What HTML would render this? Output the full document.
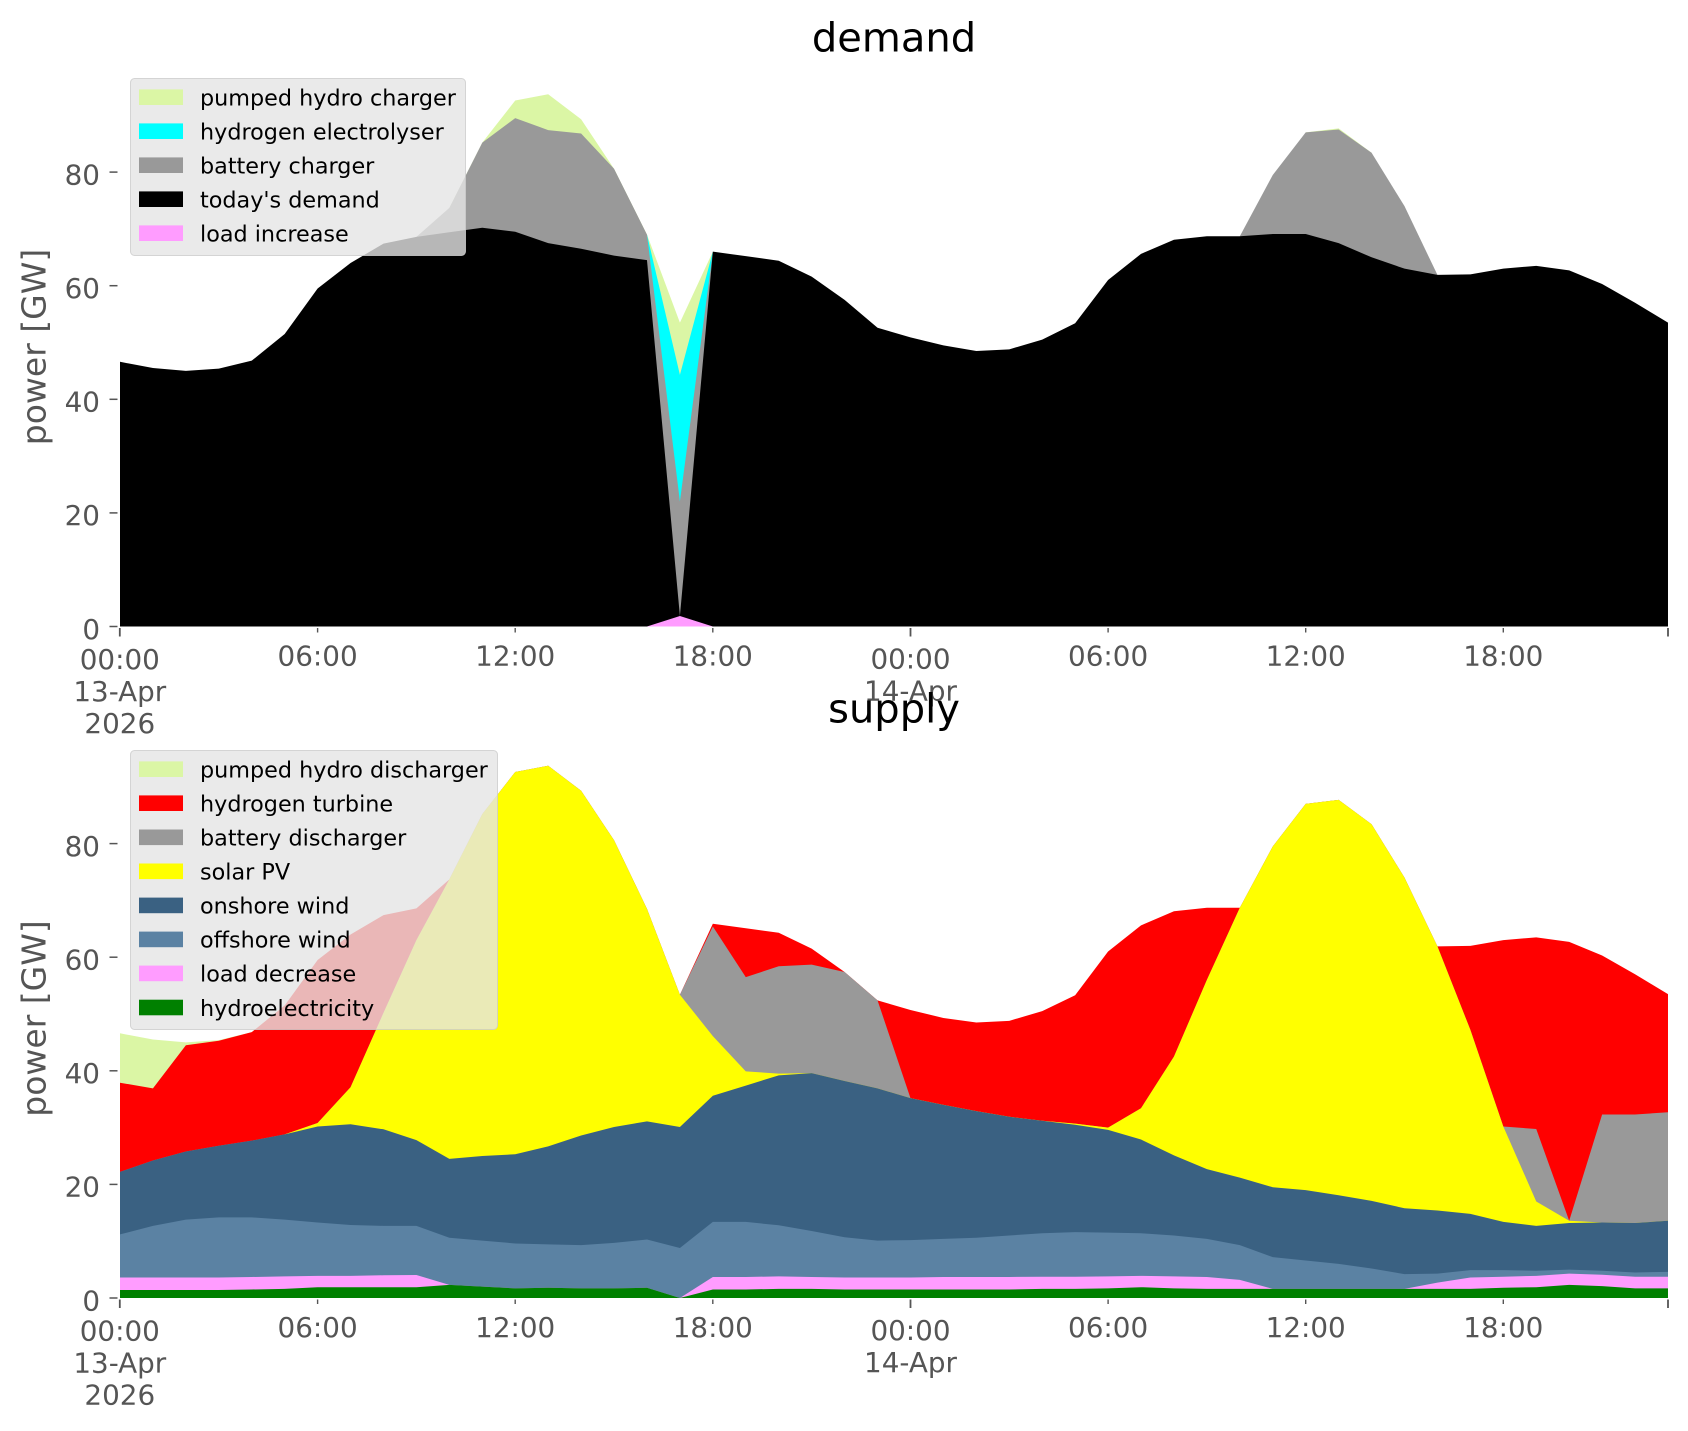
<!DOCTYPE html>
<html>
<head>
<meta charset="utf-8">
<style>
  html, body { margin: 0; padding: 0; background: #ffffff; }
  svg { display: block; }
  text { font-family: "DejaVu Sans", "Liberation Sans", sans-serif; }
  .tk { font-size: 27.8px; fill: #555555; }
  .lg { font-size: 22.3px; fill: #000000; }
</style>
</head>
<body>
<svg width="1688" height="1431" viewBox="0 0 1688 1431" xmlns="http://www.w3.org/2000/svg">
  <rect x="0" y="0" width="1688" height="1431" fill="#ffffff"/>

  <!-- ================= DEMAND (top) ================= -->
  <g transform="matrix(32.936 0 0 -5.68 120 626.5)">
    <polygon fill="#DBF6A5" points="10,0 10,73.7 11,85.2 12,92.6 13,93.7 14,89.3 15,80.6 16,69.0 17,53.5 18,66.0 18,0"/>
    <polygon fill="#DBF6A5" points="36,0 36,87.0 37,87.7 38,83.4 38,0"/>
    <polygon fill="#00FFFF" points="16,0 16,69.0 17,44.3 18,66.0 18,0"/>
    <polygon fill="#999999" points="9,0 9,68.6 10,73.7 11,85.2 12,89.5 13,87.4 14,86.8 15,80.6 16,69.0 17,22.0 18,66.0 18,0"/>
    <polygon fill="#999999" points="34,0 34,68.7 35,79.5 36,87.0 37,87.5 38,83.4 39,74.0 40,61.9 40,0"/>
    <polygon fill="#000000" points="0,0 0,46.6 1,45.5 2,45.0 3,45.4 4,46.8 5,51.5 6,59.5 7,64.0 8,67.4 9,68.6 10,69.4 11,70.2 12,69.5 13,67.5 14,66.5 15,65.3 16,64.5 17,1.85 18,66.0 19,65.2 20,64.4 21,61.6 22,57.5 23,52.6 24,50.9 25,49.5 26,48.5 27,48.8 28,50.5 29,53.4 30,61.0 31,65.6 32,68.1 33,68.7 34,68.7 35,69.1 36,69.1 37,67.5 38,65.0 39,63.0 40,61.9 41,62.0 42,63.0 43,63.5 44,62.7 45,60.3 46,57.0 47,53.5 47,0"/>
    <polygon fill="#FF9CFF" points="16,0 17,1.85 18,0"/>
  </g>

  <g stroke="#555555" stroke-width="1.5">
    <line x1="109.5" y1="626.5" x2="117.5" y2="626.5"/>
    <line x1="109.5" y1="512.9" x2="117.5" y2="512.9"/>
    <line x1="109.5" y1="399.3" x2="117.5" y2="399.3"/>
    <line x1="109.5" y1="285.7" x2="117.5" y2="285.7"/>
    <line x1="109.5" y1="172.1" x2="117.5" y2="172.1"/>
  </g>
  <g class="tk" text-anchor="end">
    <text x="100" y="638.8">0</text>
    <text x="100" y="525.2">20</text>
    <text x="100" y="411.6">40</text>
    <text x="100" y="298.0">60</text>
    <text x="100" y="184.4">80</text>
  </g>
  <g stroke="#555555" stroke-width="1.4">
    <line x1="119.8" y1="628" x2="119.8" y2="636.5" stroke-width="1.8"/>
    <line x1="317.6" y1="628" x2="317.6" y2="632.5"/>
    <line x1="515.2" y1="628" x2="515.2" y2="632.5"/>
    <line x1="712.8" y1="628" x2="712.8" y2="632.5"/>
    <line x1="910.5" y1="628" x2="910.5" y2="636.5" stroke-width="1.8"/>
    <line x1="1108.1" y1="628" x2="1108.1" y2="632.5"/>
    <line x1="1305.7" y1="628" x2="1305.7" y2="632.5"/>
    <line x1="1503.3" y1="628" x2="1503.3" y2="632.5"/>
    <line x1="1668.0" y1="628" x2="1668.0" y2="636.5" stroke-width="1.8"/>
  </g>
  <g class="tk" text-anchor="middle">
    <text x="119.8" y="669">00:00</text>
    <text x="119.8" y="701">13-Apr</text>
    <text x="119.8" y="733">2026</text>
    <text x="317.6" y="665.5">06:00</text>
    <text x="515.2" y="665.5">12:00</text>
    <text x="712.8" y="665.5">18:00</text>
    <text x="910.5" y="668.5">00:00</text>
    <text x="910.5" y="700.5">14-Apr</text>
    <text x="1108.1" y="665.5">06:00</text>
    <text x="1305.7" y="665.5">12:00</text>
    <text x="1503.3" y="665.5">18:00</text>
  </g>
  <text transform="translate(45.5,347) rotate(-90)" text-anchor="middle" style="font-size:33px;fill:#555555">power [GW]</text>
  <text x="894" y="51.7" text-anchor="middle" style="font-size:40px;fill:#000000">demand</text>

  <rect x="130.5" y="78.5" width="335" height="177" rx="4" ry="4" fill="#E5E5E5" fill-opacity="0.8" stroke="#CCCCCC" stroke-opacity="0.8" stroke-width="1"/>
  <rect x="139" y="89.4" width="44" height="15.6" fill="#DBF6A5"/>
  <rect x="139" y="123.4" width="44" height="15.6" fill="#00FFFF"/>
  <rect x="139" y="157.4" width="44" height="15.6" fill="#999999"/>
  <rect x="139" y="191.4" width="44" height="15.6" fill="#000000"/>
  <rect x="139" y="225.4" width="44" height="15.6" fill="#FF9CFF"/>
  <g class="lg">
    <text x="200" y="105.5">pumped hydro charger</text>
    <text x="200" y="139.5">hydrogen electrolyser</text>
    <text x="200" y="173.5">battery charger</text>
    <text x="200" y="207.5">today's demand</text>
    <text x="200" y="241.5">load increase</text>
  </g>

  <!-- ================= SUPPLY (bottom) ================= -->
  <g transform="matrix(32.936 0 0 -5.68 120 1298)">
    <polygon fill="#DBF6A5" points="0,0 0,46.6 1,45.5 2,45.0 3,45.4 4,46.8 5,51.5 5,0"/>
    <polygon fill="#FF0000" points="0,0 0,37.9 1,36.9 2,44.5 3,45.3 4,46.8 5,51.5 6,59.5 7,64.0 8,67.4 9,68.6 10,73.7 11,85.2 12,92.6 13,93.7 14,89.3 15,80.6 16,68.5 17,53.4 18,65.9 19,65.1 20,64.3 21,61.5 22,57.4 23,52.4 24,50.7 25,49.3 26,48.5 27,48.8 28,50.5 29,53.3 30,61.0 31,65.6 32,68.1 33,68.7 34,68.7 35,79.5 36,87.0 37,87.7 38,83.4 39,74.0 40,61.9 41,62.0 42,63.0 43,63.5 44,62.7 45,60.3 46,57.0 47,53.5 47,0"/>
    <polygon fill="#999999" points="0,0 0,22.2 1,24.2 2,25.8 3,26.8 4,27.7 5,28.8 6,30.8 7,37.1 8,50.2 9,63.0 10,73.7 11,85.2 12,92.6 13,93.7 14,89.3 15,80.6 16,68.5 17,53.4 18,65.4 19,56.5 20,58.4 21,58.7 22,57.4 23,52.4 24,35.2 25,34.0 26,32.9 27,31.9 28,31.2 29,30.7 30,30.0 31,33.4 32,42.5 33,56.0 34,68.7 35,79.5 36,87.0 37,87.7 38,83.4 39,74.0 40,61.9 41,47.2 42,30.2 43,29.75 44,13.6 45,32.3 46,32.3 47,32.7 47,0"/>
    <polygon fill="#FFFF00" points="5,0 5,28.8 6,30.8 7,37.1 8,50.2 9,63.0 10,73.7 11,85.2 12,92.6 13,93.7 14,89.3 15,80.6 16,68.5 17,53.4 18,46.1 19,39.9 20,39.5 21,39.6 22,38.2 23,36.9 24,35.2 25,34.0 26,32.9 27,31.9 28,31.2 29,30.7 30,30.0 31,33.4 32,42.5 33,56.0 34,68.7 35,79.5 36,87.0 37,87.7 38,83.4 39,74.0 40,61.9 41,47.2 42,30.2 43,17.0 44,13.6 45,13.3 46,13.2 47,13.6 47,0"/>
    <polygon fill="#3A6182" points="0,0 0,22.2 1,24.2 2,25.8 3,26.8 4,27.7 5,28.8 6,30.2 7,30.6 8,29.7 9,27.8 10,24.5 11,25.0 12,25.3 13,26.7 14,28.6 15,30.1 16,31.1 17,30.1 18,35.6 19,37.4 20,39.2 21,39.6 22,38.2 23,36.9 24,35.2 25,34.0 26,32.9 27,31.9 28,31.2 29,30.5 30,29.6 31,27.9 32,25.1 33,22.7 34,21.2 35,19.5 36,19.0 37,18.1 38,17.1 39,15.8 40,15.4 41,14.8 42,13.4 43,12.7 44,13.2 45,13.3 46,13.2 47,13.6 47,0"/>
    <polygon fill="#5B82A3" points="0,0 0,11.2 1,12.7 2,13.8 3,14.2 4,14.2 5,13.8 6,13.3 7,12.85 8,12.7 9,12.7 10,10.6 11,10.1 12,9.6 13,9.45 14,9.3 15,9.7 16,10.3 17,8.8 18,13.4 19,13.4 20,12.8 21,11.8 22,10.7 23,10.1 24,10.2 25,10.4 26,10.6 27,11.0 28,11.4 29,11.6 30,11.5 31,11.4 32,11.0 33,10.4 34,9.3 35,7.2 36,6.6 37,6.0 38,5.2 39,4.2 40,4.3 41,4.9 42,4.9 43,4.8 44,5.0 45,4.8 46,4.5 47,4.6 47,0"/>
    <polygon fill="#FF9CFF" points="0,0 0,3.6 1,3.6 2,3.6 3,3.6 4,3.7 5,3.8 6,3.9 7,3.9 8,4.0 9,4.05 10,2.3 11,2.0 12,1.7 13,1.8 14,1.7 15,1.7 16,1.8 17,0 18,3.7 19,3.7 20,3.8 21,3.7 22,3.6 23,3.6 24,3.6 25,3.7 26,3.7 27,3.7 28,3.75 29,3.75 30,3.8 31,3.9 32,3.8 33,3.7 34,3.2 35,1.6 36,1.6 37,1.6 38,1.6 39,1.6 40,2.7 41,3.6 42,3.75 43,3.9 44,4.3 45,4.1 46,3.75 47,3.75 47,0"/>
    <polygon fill="#008000" points="0,0 0,1.4 1,1.4 2,1.4 3,1.4 4,1.5 5,1.6 6,1.9 7,1.9 8,1.9 9,1.9 10,2.3 11,2.0 12,1.7 13,1.8 14,1.7 15,1.7 16,1.8 17,0 18,1.5 19,1.5 20,1.6 21,1.6 22,1.5 23,1.5 24,1.5 25,1.5 26,1.5 27,1.5 28,1.6 29,1.6 30,1.7 31,1.9 32,1.7 33,1.6 34,1.6 35,1.6 36,1.6 37,1.6 38,1.6 39,1.6 40,1.6 41,1.6 42,1.8 43,1.9 44,2.3 45,2.1 46,1.7 47,1.7 47,0"/>
  </g>

  <g stroke="#555555" stroke-width="1.5">
    <line x1="109.5" y1="1298" x2="117.5" y2="1298"/>
    <line x1="109.5" y1="1184.4" x2="117.5" y2="1184.4"/>
    <line x1="109.5" y1="1070.8" x2="117.5" y2="1070.8"/>
    <line x1="109.5" y1="957.2" x2="117.5" y2="957.2"/>
    <line x1="109.5" y1="843.6" x2="117.5" y2="843.6"/>
  </g>
  <g class="tk" text-anchor="end">
    <text x="100" y="1310.3">0</text>
    <text x="100" y="1196.7">20</text>
    <text x="100" y="1083.1">40</text>
    <text x="100" y="969.5">60</text>
    <text x="100" y="855.9">80</text>
  </g>
  <g stroke="#555555" stroke-width="1.4">
    <line x1="119.8" y1="1299.5" x2="119.8" y2="1308" stroke-width="1.8"/>
    <line x1="317.6" y1="1299.5" x2="317.6" y2="1304"/>
    <line x1="515.2" y1="1299.5" x2="515.2" y2="1304"/>
    <line x1="712.8" y1="1299.5" x2="712.8" y2="1304"/>
    <line x1="910.5" y1="1299.5" x2="910.5" y2="1308" stroke-width="1.8"/>
    <line x1="1108.1" y1="1299.5" x2="1108.1" y2="1304"/>
    <line x1="1305.7" y1="1299.5" x2="1305.7" y2="1304"/>
    <line x1="1503.3" y1="1299.5" x2="1503.3" y2="1304"/>
    <line x1="1668.0" y1="1299.5" x2="1668.0" y2="1308" stroke-width="1.8"/>
  </g>
  <g class="tk" text-anchor="middle">
    <text x="119.8" y="1340.5">00:00</text>
    <text x="119.8" y="1372.5">13-Apr</text>
    <text x="119.8" y="1404.5">2026</text>
    <text x="317.6" y="1337">06:00</text>
    <text x="515.2" y="1337">12:00</text>
    <text x="712.8" y="1337">18:00</text>
    <text x="910.5" y="1340">00:00</text>
    <text x="910.5" y="1372">14-Apr</text>
    <text x="1108.1" y="1337">06:00</text>
    <text x="1305.7" y="1337">12:00</text>
    <text x="1503.3" y="1337">18:00</text>
  </g>
  <text transform="translate(45.5,1018.5) rotate(-90)" text-anchor="middle" style="font-size:33px;fill:#555555">power [GW]</text>
  <text x="894" y="722.7" text-anchor="middle" style="font-size:40px;fill:#000000">supply</text>

  <rect x="130.5" y="750.5" width="367" height="279" rx="4" ry="4" fill="#E5E5E5" fill-opacity="0.8" stroke="#CCCCCC" stroke-opacity="0.8" stroke-width="1"/>
  <rect x="139" y="761.4" width="44" height="15.6" fill="#DBF6A5"/>
  <rect x="139" y="795.4" width="44" height="15.6" fill="#FF0000"/>
  <rect x="139" y="829.5" width="44" height="15.6" fill="#999999"/>
  <rect x="139" y="863.5" width="44" height="15.6" fill="#FFFF00"/>
  <rect x="139" y="897.6" width="44" height="15.6" fill="#3A6182"/>
  <rect x="139" y="931.6" width="44" height="15.6" fill="#5B82A3"/>
  <rect x="139" y="965.6" width="44" height="15.6" fill="#FF9CFF"/>
  <rect x="139" y="999.7" width="44" height="15.6" fill="#008000"/>
  <g class="lg">
    <text x="200" y="777.5">pumped hydro discharger</text>
    <text x="200" y="811.5">hydrogen turbine</text>
    <text x="200" y="845.6">battery discharger</text>
    <text x="200" y="879.6">solar PV</text>
    <text x="200" y="913.7">onshore wind</text>
    <text x="200" y="947.7">offshore wind</text>
    <text x="200" y="981.7">load decrease</text>
    <text x="200" y="1015.8">hydroelectricity</text>
  </g>
</svg>
</body>
</html>
